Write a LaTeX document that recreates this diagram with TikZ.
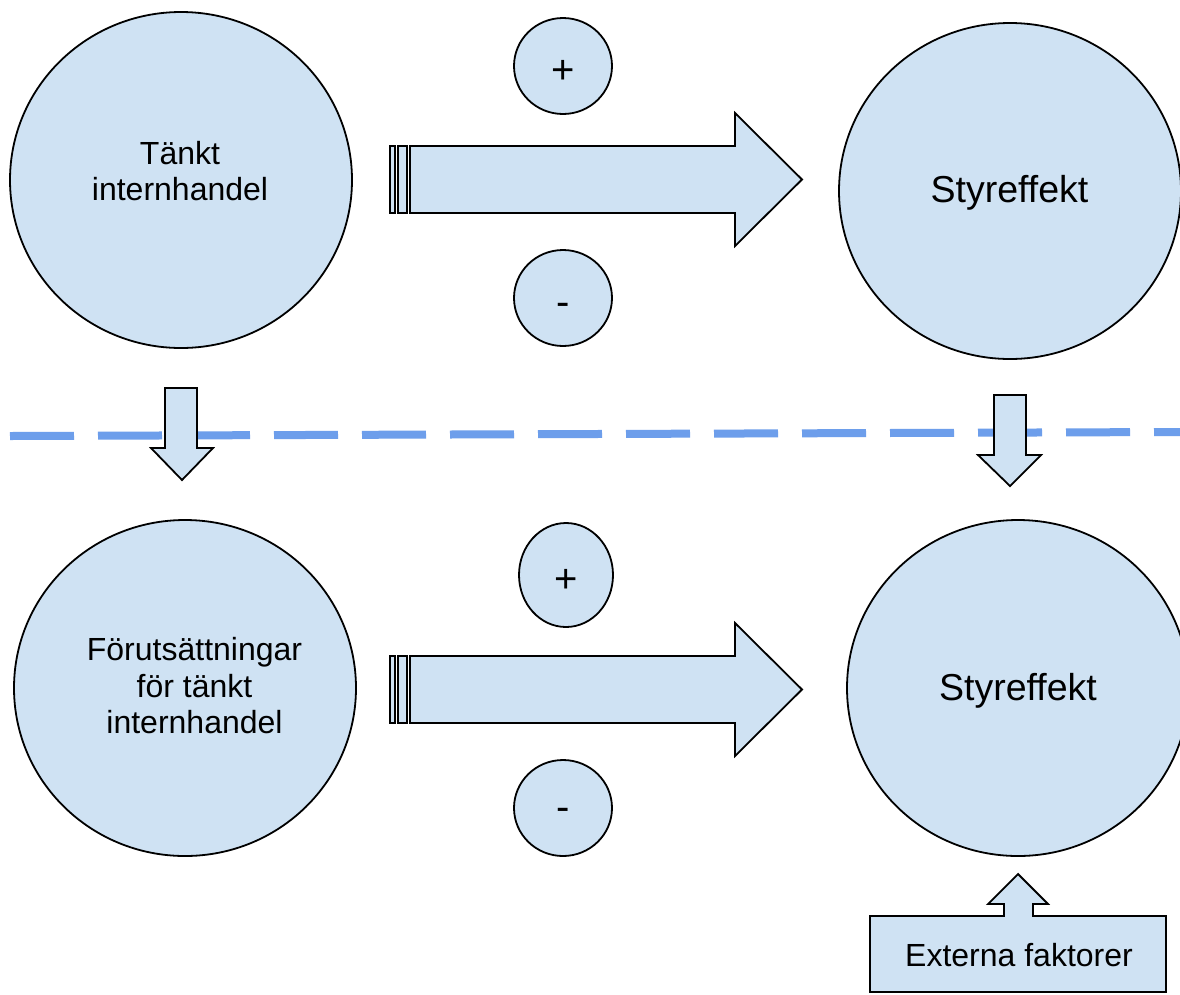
\documentclass[tikz,border=0pt]{standalone}
\usepackage{fontspec}
\setmainfont{Liberation Sans}
\usetikzlibrary{shapes.geometric}
\definecolor{shapefill}{HTML}{CFE2F3}
\definecolor{dividerblue}{HTML}{6D9EEB}
\tikzset{
  blockshape/.style={draw=black, fill=shapefill, line width=1.8pt, line join=miter},
  bigcircle/.style={blockshape, ellipse, inner sep=0pt, minimum width=342pt, minimum height=336pt},
  signcircle/.style={blockshape, ellipse, inner sep=0pt, minimum width=98pt, minimum height=96pt},
  txt/.style={font=\fontsize{32}{36.5}\selectfont, align=center, inner sep=0pt},
  bigtxt/.style={font=\fontsize{37.5}{42}\selectfont, inner sep=0pt},
  signtxt/.style={font=\fontsize{40}{44}\selectfont, inner sep=0pt},
}
\begin{document}
\begin{tikzpicture}[x=1pt, y=-1pt]
  \fill[white] (0,0) rectangle (1180,994);
  \clip (0,0) rectangle (1180,994);

  % dashed divider between the two levels
  \coordinate (divL) at (10,436);
  \coordinate (divR) at (1180,432);
  \draw[dividerblue, line width=8pt, dash pattern=on 64pt off 24pt] (divL) -- (divR);

  % large circles
  \node[bigcircle] (think) at (181,180) {};
  \node[txt] (thinkT) at (180,171) {Tänkt\\internhandel};
  \node[bigcircle] (effA) at (1010,191) {};
  \node[bigtxt] (effAT) at (1009.5,193) {Styreffekt};
  \node[bigcircle] (prereq) at (185,688) {};
  \node[txt] (prereqT) at (194.5,686) {Förutsättningar\\för tänkt\\internhandel};
  \node[bigcircle] (effB) at (1018,688) {};
  \node[bigtxt] (effBT) at (1018,691) {Styreffekt};

  % sign circles
  \node[signcircle] (plusA) at (563,66) {};
  \node[signtxt] (plusAT) at (563,71.5) {+};
  \node[signcircle] (minusA) at (563,298) {};
  \node[signtxt] (minusAT) at (563,309) {-};
  \node[signcircle, minimum width=94pt, minimum height=104pt] (plusB) at (566,575) {};
  \node[signtxt] (plusBT) at (566,581) {+};
  \node[signcircle] (minusB) at (563,808) {};
  \node[signtxt] (minusBT) at (563,814) {-};

  % striped block arrows
  \foreach \y in {0,510}{
    \begin{scope}[yshift=-\y pt]
      \draw[blockshape] (390,146) rectangle (395,213);
      \draw[blockshape] (398,146) rectangle (407,213);
      \draw[blockshape] (410,146) -- (735,146) -- (735,113) -- (802,179.5)
        -- (735,246) -- (735,213) -- (410,213) -- cycle;
    \end{scope}
  }

  % small downward arrows across the divider
  \draw[blockshape] (165,388) -- (197,388) -- (197,448) -- (213,448) -- (182,480)
    -- (151,448) -- (165,448) -- cycle;
  \draw[blockshape] (994,395) -- (1026,395) -- (1026,455) -- (1041,455) -- (1010,486)
    -- (978,455) -- (994,455) -- cycle;

  % external factors callout
  \draw[blockshape] (870,916) -- (1004,916) -- (1004,904) -- (988,904) -- (1018,874)
    -- (1048,904) -- (1033,904) -- (1033,916) -- (1166,916) -- (1166,992)
    -- (870,992) -- cycle;
  \node[txt] (ext) at (1019,955) {Externa faktorer};
\end{tikzpicture}
\end{document}
